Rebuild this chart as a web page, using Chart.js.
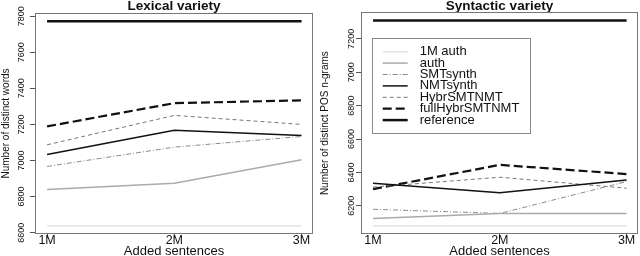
<!DOCTYPE html>
<html>
<head>
<meta charset="utf-8">
<script src="https://cdn.jsdelivr.net/npm/chart.js@4.4.0/dist/chart.umd.min.js"></script>
<style>
html, body { margin: 0; padding: 0; background: #fff; }
#wrap { position: relative; width: 640px; height: 256px; overflow: hidden; }
#wrap canvas { position: absolute; top: 0; }
</style>
</head>
<body>
<div id="wrap">
	<canvas id="lexical-chart" width="320" height="256" style="left:0"></canvas>
	<canvas id="syntactic-chart" width="320" height="256" style="left:320px"></canvas>
</div>
<script>
const sentences = ['1M', '2M', '3M'];
const systems = ['1M auth', 'auth', 'SMTsynth', 'NMTsynth', 'HybrSMTNMT', 'fullHybrSMTNMT', 'reference'];

// Lexical variety: number of distinct words
const lexAuth1M = [6638, 6638, 6638];
const lexAuth = [6839, 6874, 7004];
const lexSMT = [6967, 7074, 7133];
const lexNMT = [7033, 7167, 7139];
const lexHybr = [7087, 7250, 7200];
const lexFullHybr = [7189, 7318, 7333];
const lexReference = [7772, 7772, 7772];
const lexTicks = [6600, 6800, 7000, 7200, 7400, 7600, 7800];

// Syntactic variety: number of distinct POS n-grams
const synAuth1M = [6080, 6080, 6080];
const synAuth = [6124, 6154, 6154];
const synSMT = [6179, 6154, 6345];
const synNMT = [6335, 6278, 6354];
const synHybr = [6312, 6371, 6305];
const synFullHybr = [6300, 6445, 6390];
const synReference = [7310, 7310, 7310];
const synTicks = [6200, 6400, 6600, 6800, 7000, 7200];

const lineStyles = [
	{color: '#dedede', width: 1.2},
	{color: '#ababab', width: 1.5},
	{color: '#8a8a8a', width: 1, dash: [5, 2, 1, 2]},
	{color: '#111111', width: 1.5},
	{color: '#777777', width: 1, dash: [4, 3]},
	{color: '#111111', width: 2.2, dash: [9, 4]},
	{color: '#111111', width: 2.5},
];

Chart.defaults.font.family = '"Liberation Sans", Arial, Helvetica, sans-serif';
Chart.defaults.color = '#111';

// R style extension of the data range by 4% on each side
function paddedRange(series) {
	const all = series.flat();
	const lo = Math.min(...all);
	const hi = Math.max(...all);
	const pad = (hi - lo) * 0.04;
	return [lo - pad, hi + pad];
}

const plotBox = {
	id: 'plotBox',
	beforeDatasetsDraw(chart) {
		const {ctx, chartArea: a} = chart;
		ctx.save();
		ctx.strokeStyle = '#777';
		ctx.lineWidth = 1;
		ctx.strokeRect(Math.round(a.left) + 0.5, Math.round(a.top) + 0.5, Math.round(a.width) - 1, Math.round(a.height) - 1);
		ctx.restore();
	}
};

// legend in a framed box inside the plot, like R's legend()
const boxLegend = {
	id: 'boxLegend',
	afterDatasetsDraw(chart, args, opts) {
		if (!opts || !opts.display) return;
		const {ctx, chartArea} = chart;
		const x0 = chartArea.left + opts.x;
		const y0 = chartArea.top + opts.y;
		ctx.save();
		ctx.fillStyle = '#fff';
		ctx.fillRect(x0, y0, opts.width, opts.height);
		ctx.strokeStyle = '#888';
		ctx.lineWidth = 1;
		ctx.strokeRect(Math.round(x0) + 0.5, Math.round(y0) + 0.5, opts.width, opts.height);
		ctx.font = '13px "Liberation Sans", Arial, sans-serif';
		ctx.textBaseline = 'middle';
		chart.data.datasets.forEach((ds, i) => {
			const y = y0 + opts.firstRow + i * opts.rowGap;
			ctx.strokeStyle = ds.borderColor;
			ctx.lineWidth = ds.borderWidth;
			ctx.setLineDash(ds.borderDash || []);
			ctx.beginPath();
			ctx.moveTo(x0 + opts.lineX, y);
			ctx.lineTo(x0 + opts.lineX + opts.lineLength, y);
			ctx.stroke();
			ctx.setLineDash([]);
			ctx.fillStyle = '#111';
			ctx.fillText(ds.label, x0 + opts.textX, y);
		});
		ctx.restore();
	}
};

function varietyChart(canvasId, title, yTitle, series, yTicks, box) {
	const [yMin, yMax] = paddedRange(series);
	return new Chart(document.getElementById(canvasId), {
		type: 'line',
		data: {
			datasets: series.map((values, i) => ({
				label: systems[i],
				data: values.map((v, j) => ({x: j + 1, y: v})),
				borderColor: lineStyles[i].color,
				borderWidth: lineStyles[i].width,
				borderDash: lineStyles[i].dash || [],
				pointRadius: 0,
				tension: 0,
			})),
		},
		options: {
			responsive: false,
			animation: false,
			devicePixelRatio: 1,
			layout: {
				padding: {left: 0, right: box.right, top: 0, bottom: 0},
			},
			plugins: {
				legend: {display: false},
				tooltip: {enabled: false},
				title: {
					display: true,
					text: title,
					fullSize: false,
					font: {size: 13.5, weight: 'bold', lineHeight: 1},
					padding: {top: 0, bottom: box.titleGap},
					color: '#111',
				},
				boxLegend: box.legend,
			},
			scales: {
				x: {
					type: 'linear',
					min: 0.905,
					max: 3.09,
					afterBuildTicks: (s) => { s.ticks = sentences.map((_, i) => ({value: i + 1})); },
					afterFit: (s) => { s.height = 22; },
					ticks: {
						callback: (v) => sentences[Math.round(v) - 1],
						font: {size: 12.5, lineHeight: 1},
						padding: -4,
						autoSkip: false,
						maxRotation: 0,
						color: '#111',
					},
					grid: {drawOnChartArea: false, tickLength: 4, color: '#555'},
					border: {display: false},
					title: {
						display: true,
						text: 'Added sentences',
						font: {size: 13, lineHeight: 1},
						padding: {top: 0, bottom: -1.5},
						color: '#111',
					},
				},
				y: {
					type: 'linear',
					min: yMin,
					max: yMax,
					afterBuildTicks: (s) => { s.ticks = yTicks.map((v) => ({value: v})); },
					afterFit: (s) => { s.width = box.left; },
					ticks: {
						callback: (v) => String(v),
						minRotation: 90,
						maxRotation: 90,
						crossAlign: 'center',
						padding: box.tickPad,
						font: {size: 9},
						color: '#111',
					},
					grid: {drawOnChartArea: false, tickLength: 5, color: '#555'},
					border: {display: false},
					title: {
						display: true,
						text: yTitle,
						font: {size: 10, lineHeight: 1},
						padding: {top: box.yTitlePad, bottom: 0},
						color: '#111',
					},
				},
			},
		},
		plugins: [plotBox, boxLegend],
	});
}

varietyChart(
	'lexical-chart',
	'Lexical variety',
	'Number of distinct words',
	[lexAuth1M, lexAuth, lexSMT, lexNMT, lexHybr, lexFullHybr, lexReference],
	lexTicks,
	{left: 35, right: 7, titleGap: -0.5, tickPad: -1.5, yTitlePad: 1, legend: {display: false}}
);

varietyChart(
	'syntactic-chart',
	'Syntactic variety',
	'Number of distinct POS n-grams',
	[synAuth1M, synAuth, synSMT, synNMT, synHybr, synFullHybr, synReference],
	synTicks,
	{
		left: 41, right: 2, titleGap: -1.2, tickPad: -5.5, yTitlePad: 0,
		legend: {display: true, x: 10.7, y: 26, width: 158, height: 95, firstRow: 13.4, rowGap: 11.4, lineX: 11, lineLength: 25, textX: 48},
	}
);
</script>
</body>
</html>
